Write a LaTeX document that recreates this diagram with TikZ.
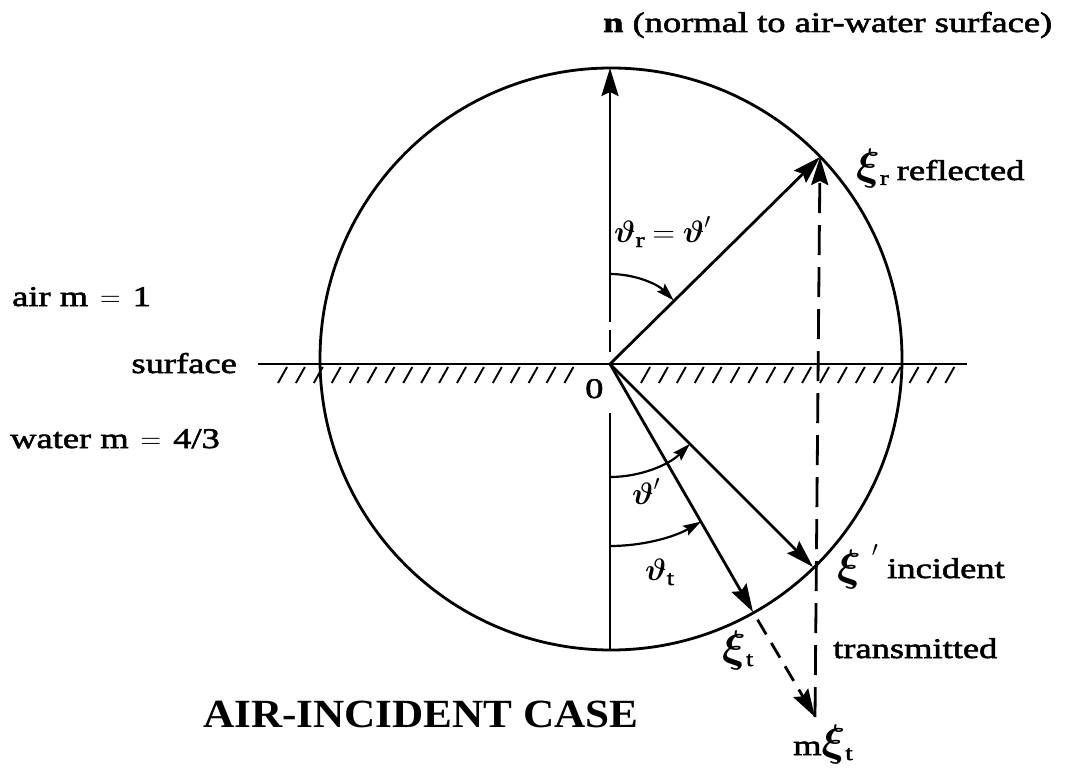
\RequirePackage{fix-cm}
\documentclass[tikz,border=0pt]{standalone}
\usepackage{fontspec}
\usepackage{amsmath}
\setmainfont{Liberation Serif}[FakeStretch=1.28,FakeBold=2]
\newfontfamily\titlefont{Liberation Serif}[FakeStretch=1.08]
\usetikzlibrary{arrows.meta,calc}
\newcommand\XI{{\fontsize{44}{44}\selectfont$\boldsymbol{\xi}$}}
\newcommand\VTH{\boldsymbol{\vartheta}}
\newcommand\SUB[1]{\raisebox{-5pt}{\fontsize{21}{21}\selectfont #1}}
\newcommand\EQ{\hspace{12pt}$=$\hspace{12pt}}
\begin{document}
\begin{tikzpicture}[x=1pt,y=-1pt,
  vec/.style={line width=2.8pt,-{Stealth[length=28pt,width=17pt,inset=4pt]}},
  dvec/.style={vec,dash pattern=on 30pt off 12pt},
  sdvec/.style={vec,dash pattern=on 17pt off 10pt},
  plain/.style={line width=2.8pt},
  circ/.style={line width=2.8pt},
  arcarr/.style={line width=2.2pt,-{Stealth[length=18pt,width=11pt,inset=3pt]}},
  hatch/.style={line width=1.9pt},
  lbl/.style={inner sep=0pt,font=\fontsize{28.5}{30}\selectfont},
  mlbl/.style={inner sep=0pt,font=\fontsize{31}{32}\selectfont},
  ttl/.style={inner sep=0pt,font=\titlefont\bfseries\fontsize{40}{42}\selectfont}]
\useasboundingbox (0,0) rectangle (1078,770);
\fill[white] (0,0) rectangle (1078,770);

% key points
\coordinate (O) at (610,364);
\coordinate (C) at (611,359);
\coordinate (N) at (610,68);
\coordinate (Nb) at (610,322);
\coordinate (Da) at (610,330);
\coordinate (Db) at (610,352);
\coordinate (La) at (610,413);
\coordinate (Lb) at (610,650);
\coordinate (R) at (820,157);
\coordinate (I) at (813,567);
\coordinate (T) at (753,612);
\coordinate (M) at (815,717);
\coordinate (S1) at (258,364);
\coordinate (S2) at (967,364);

% circle and surface
\draw[circ] (C) circle[radius=291];
\draw[plain] (S1) -- (S2);
\foreach \k in {0,...,16} \draw[hatch] ({287+17.9*\k},367) -- ({278+17.9*\k},383);
\foreach \k in {0,...,17} \draw[hatch] ({650+17.9*\k},367) -- ({641+17.9*\k},383);

% normal
\draw[vec] (Nb) -- (N);
\draw[plain] (Da) -- (Db);
\draw[plain] (La) -- (Lb);

% vectors
\draw[vec] (O) -- (R);
\draw[vec] (O) -- (I);
\draw[vec] (O) -- (T);
\draw[sdvec] ($(T)!9pt!(M)$) -- (M);
\draw[dvec] (M) -- (R);

% angle arcs
\draw[arcarr] ($(O)+(-90:90)$) arc[start angle=-90,end angle=-45,radius=90];
\draw[arcarr] ($(O)+(90:113)$) arc[start angle=90,end angle=45,radius=113];
\draw[arcarr] ($(O)+(90:182)$) arc[start angle=90,end angle=60,radius=182];

% labels
\node[lbl,anchor=base west] (nlab) at (603,32) {{\bfseries n} (normal to air-water surface)};
\node[lbl,anchor=base west] (rlab) at (856,180) {\XI\SUB{r}\hspace{8pt}reflected};
\node[mlbl,anchor=base west] (thr) at (614,242) {$\VTH$\SUB{r}\hspace{8pt}$=$\hspace{8pt}$\VTH'$};
\node[lbl,anchor=base west] (air) at (12,306) {air m\EQ 1};
\node[lbl,anchor=base east] (surf) at (237,373) {surface};
\node[lbl,anchor=base west] (water) at (10,448) {water m\EQ 4/3};
\node[lbl,anchor=base west] (zero) at (585,398) {0};
\node[mlbl,anchor=base west] (thp) at (632,504) {$\VTH'$};
\node[mlbl,anchor=base west] (tht) at (645,580) {$\VTH$\SUB{t}};
\node[lbl,anchor=base west] (xip) at (837,580) {\XI};
\node[mlbl,anchor=center] (prm) at (875,556) {$'$};
\node[lbl,anchor=base west] (inc) at (887,578) {incident};
\node[lbl,anchor=base west] (trans) at (833,658) {transmitted};
\node[lbl,anchor=base west] (xit) at (722,661) {\XI\SUB{t}};
\node[lbl,anchor=base west] (mxit) at (793,755) {m\XI\SUB{t}};
\node[ttl,anchor=base west] (title) at (203,727) {AIR-INCIDENT CASE};
\end{tikzpicture}
\end{document}
